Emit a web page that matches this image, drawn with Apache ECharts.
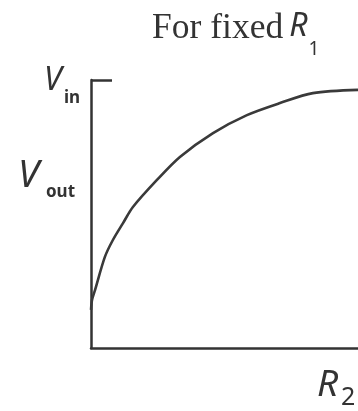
<!DOCTYPE html>
<html>
<head>
<meta charset="utf-8">
<script src="https://cdn.jsdelivr.net/npm/echarts@6.0.0/dist/echarts.min.js"></script>
<style>
  html, body { margin: 0; padding: 0; background: #ffffff; }
  #chart { width: 358px; height: 411px; }
</style>
</head>
<body>
<div id="chart"></div>
<script>
// Output voltage of a divider as R2 grows (R1 held fixed), in % of Vin
const r2Values = [0, 0.4, 1.5, 5.2, 8.2, 12, 15.7, 24.7, 33.3, 45.7, 58.4, 70.8, 83.1, 100];
const voutValues = [14.2, 18, 21.6, 34, 40.3, 46.6, 52.6, 62.7, 71.3, 80.2, 86.9, 91.4, 95.1, 96.3];

// Reference levels marked on the vertical axis
const vinLevel = 100;
const voutLabelLevel = 64;

const ink = '#333333';
const chart = echarts.init(document.getElementById('chart'), null, { renderer: 'canvas' });

const option = {
  animation: false,
  backgroundColor: '#ffffff',
  title: {
    text: '{a|For fixed}{r|R}{s|1}',
    left: 147,
    top: 6,
    textStyle: {
      fontWeight: 'normal',
      rich: {
        a: { fontFamily: '"Liberation Serif", serif', fontWeight: 'normal', fontSize: 35.5, color: ink, verticalAlign: 'top', lineHeight: 40 },
        r: { fontFamily: '"Noto Sans", sans-serif', fontWeight: 'normal', fontStyle: 'italic', fontSize: 32, color: ink, verticalAlign: 'top', lineHeight: 40, padding: [0, 0, 0, 6] },
        s: { fontFamily: '"Noto Sans", sans-serif', fontWeight: 'normal', fontSize: 19, color: ink, verticalAlign: 'top', lineHeight: 20, padding: [29, 0, 0, 1] }
      }
    }
  },
  grid: { left: 91, right: 0, top: 80, bottom: 63, containLabel: false },
  xAxis: {
    type: 'value',
    min: 0,
    max: 100,
    axisLine: { show: true, lineStyle: { color: ink, width: 2.5 } },
    axisTick: { show: false },
    axisLabel: { show: false },
    splitLine: { show: false }
  },
  yAxis: {
    type: 'value',
    min: 0,
    max: 100,
    axisLine: { show: true, lineStyle: { color: ink, width: 2.5 } },
    axisTick: {
      show: true,
      inside: true,
      length: 21,
      customValues: [vinLevel],
      lineStyle: { color: ink, width: 2.5 }
    },
    axisLabel: { show: false },
    splitLine: { show: false }
  },
  series: [{
    type: 'line',
    data: r2Values.map((x, i) => [x, voutValues[i]]),
    smooth: 0.3,
    symbol: 'none',
    lineStyle: { color: '#3a3a3a', width: 2.6 }
  }]
};

chart.setOption(option);

// Axis annotations placed from the axes' own scale
const pVin = chart.convertToPixel({ gridIndex: 0 }, [0, vinLevel]);
const pVout = chart.convertToPixel({ gridIndex: 0 }, [0, voutLabelLevel]);
const pEnd = chart.convertToPixel({ gridIndex: 0 }, [100, 0]);

const italic = (size) => 'italic ' + size + 'px "Noto Sans", sans-serif';
const bold = (size) => 'bold ' + size + 'px "Noto Sans", sans-serif';
const plain = (size) => size + 'px "Noto Sans", sans-serif';

chart.setOption({
  graphic: [
    { type: 'text', x: pVin[0] - 47, y: pVin[1] + 1, style: { text: 'V', font: italic(32), fill: ink, align: 'left', verticalAlign: 'middle' } },
    { type: 'text', x: pVin[0] - 27, y: pVin[1] + 18, style: { text: 'in', font: bold(17), fill: ink, align: 'left', verticalAlign: 'middle' } },
    { type: 'text', x: pVout[0] - 73, y: pVout[1], style: { text: 'V', font: italic(38), fill: ink, align: 'left', verticalAlign: 'middle' } },
    { type: 'text', x: pVout[0] - 45, y: pVout[1] + 16, style: { text: 'out', font: bold(17), fill: ink, align: 'left', verticalAlign: 'middle' } },
    { type: 'text', x: pEnd[0] - 41, y: pEnd[1] + 37, style: { text: 'R', font: italic(37), fill: ink, align: 'left', verticalAlign: 'middle' } },
    { type: 'text', x: pEnd[0] - 17, y: pEnd[1] + 50, style: { text: '2', font: plain(25), fill: ink, align: 'left', verticalAlign: 'middle' } }
  ]
});
</script>
</body>
</html>
